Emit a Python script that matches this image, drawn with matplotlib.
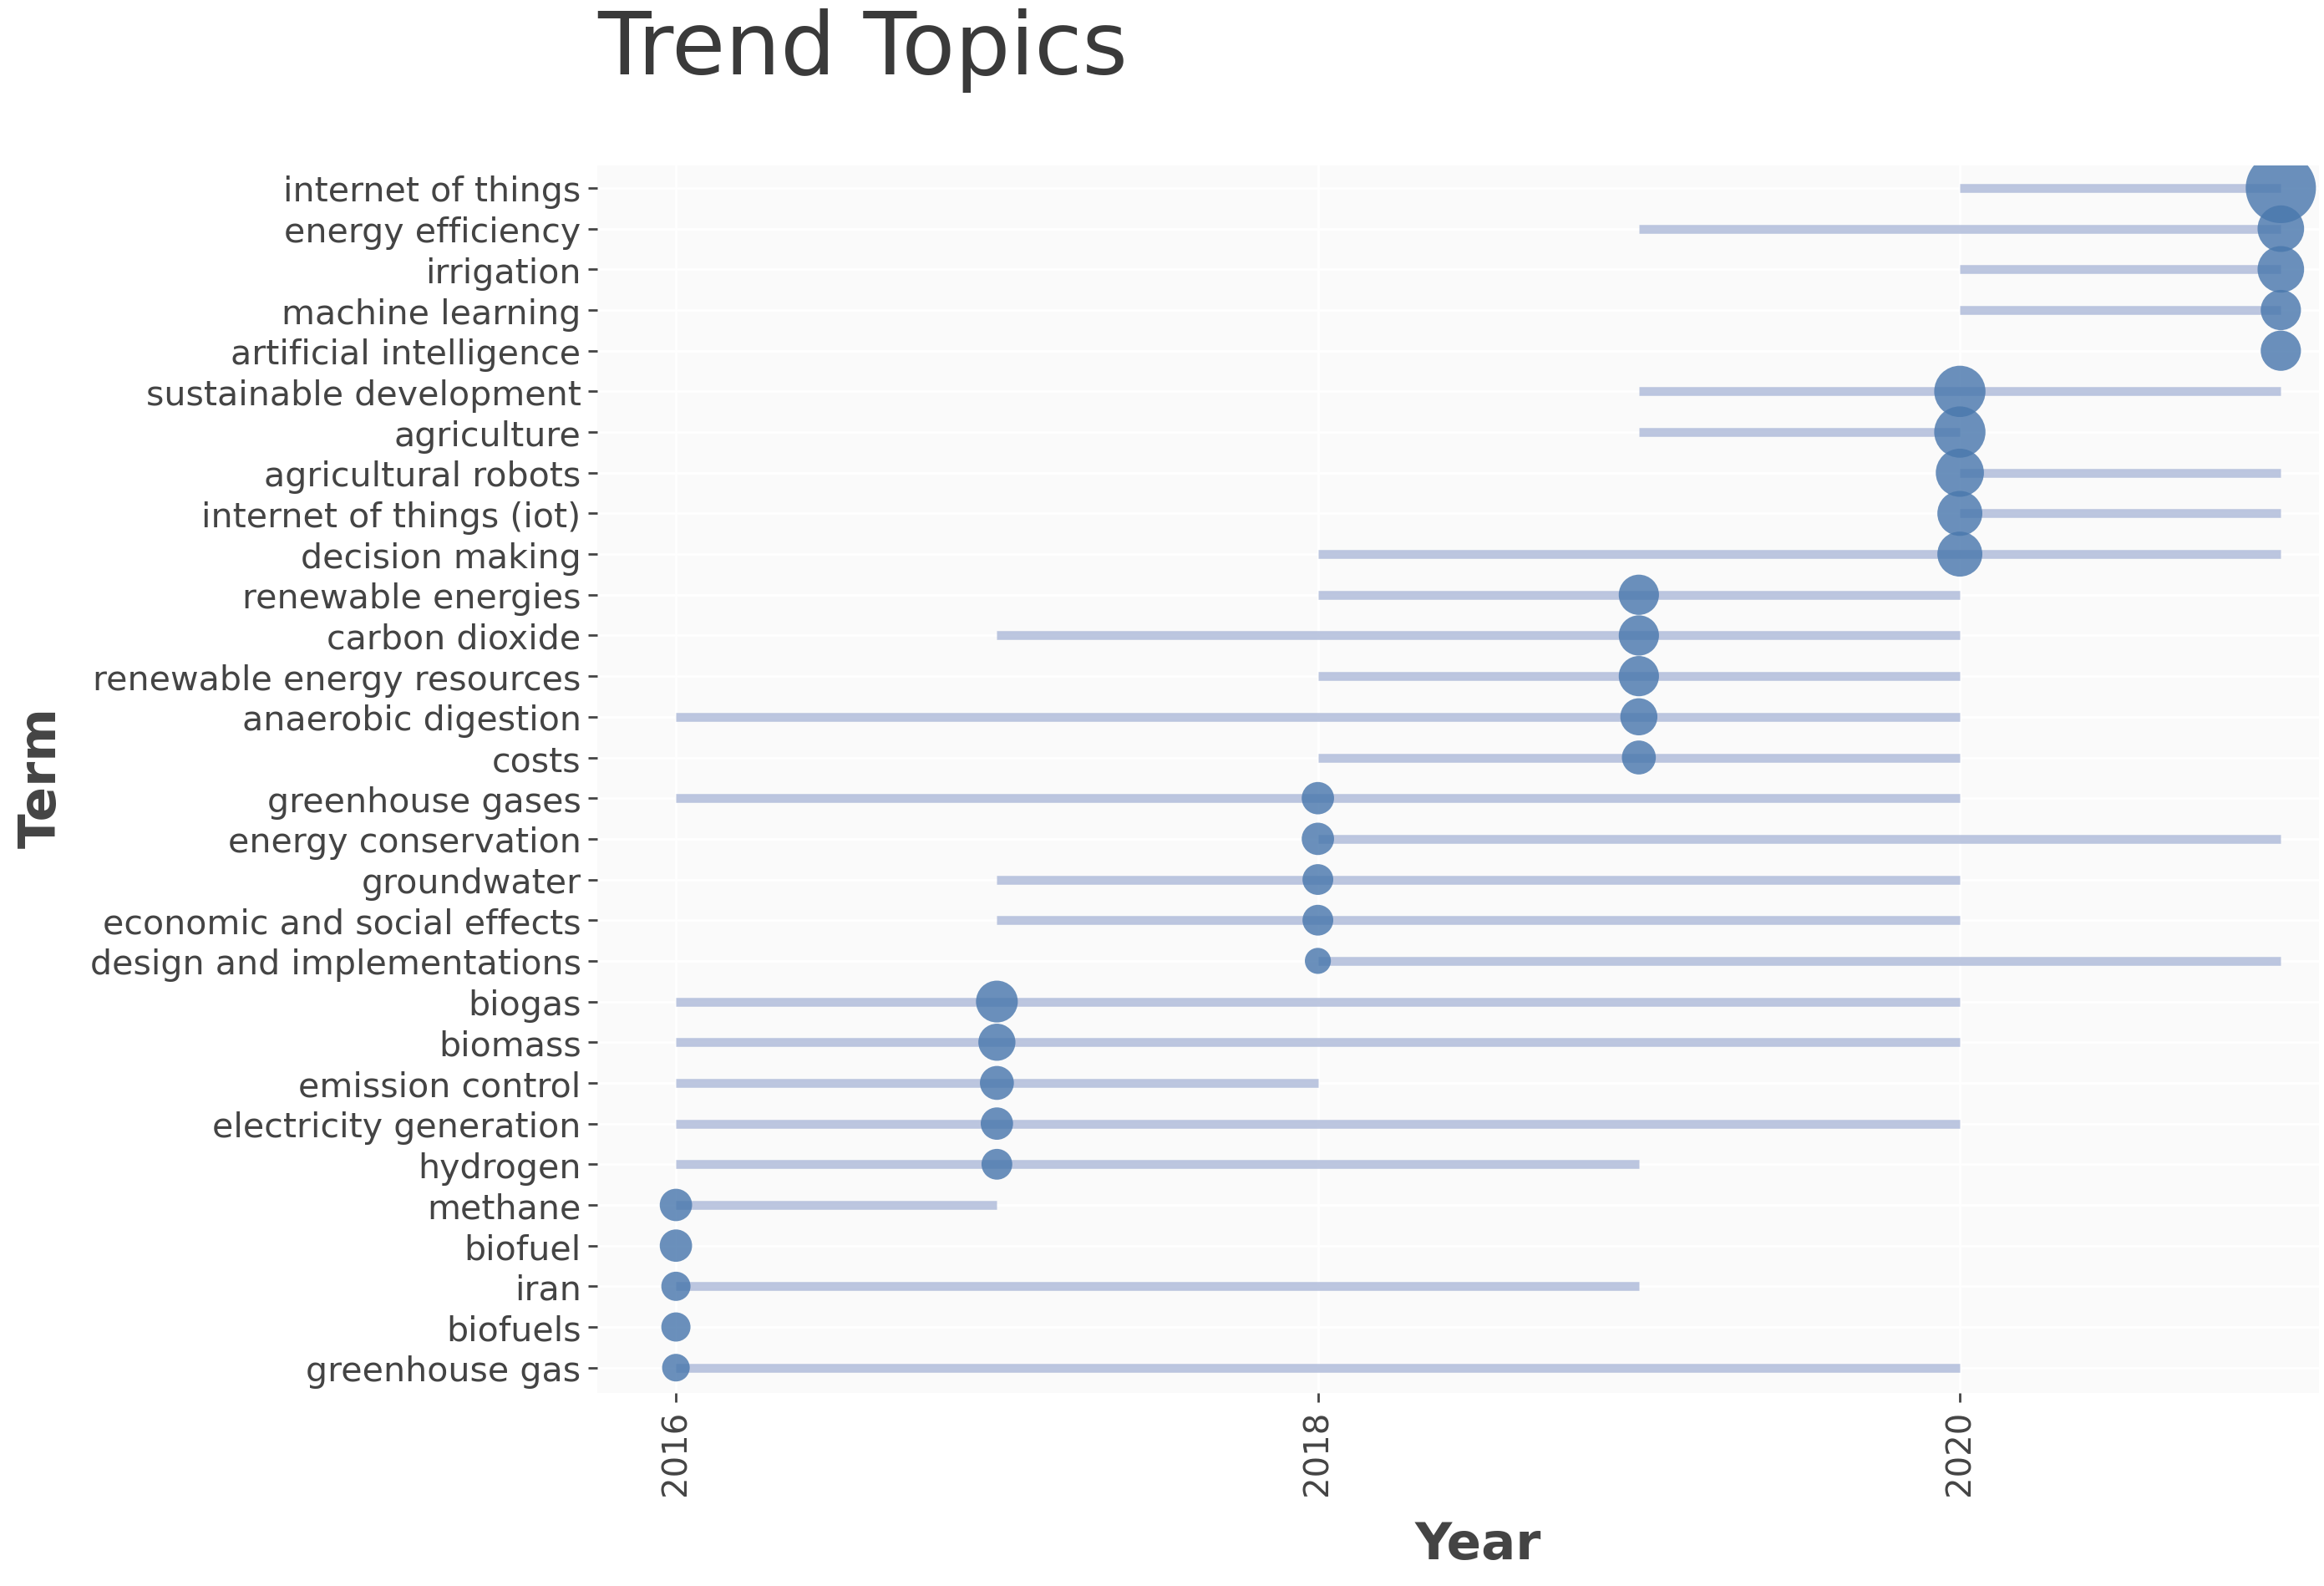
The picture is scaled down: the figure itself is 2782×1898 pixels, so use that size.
import numpy as np
import matplotlib.pyplot as plt

terms = [
    "internet of things", "energy efficiency", "irrigation", "machine learning",
    "artificial intelligence", "sustainable development", "agriculture",
    "agricultural robots", "internet of things (iot)", "decision making",
    "renewable energies", "carbon dioxide", "renewable energy resources",
    "anaerobic digestion", "costs", "greenhouse gases", "energy conservation",
    "groundwater", "economic and social effects", "design and implementations",
    "biogas", "biomass", "emission control", "electricity generation", "hydrogen",
    "methane", "biofuel", "iran", "biofuels", "greenhouse gas",
]
# first quartile year, median year, third quartile year, term frequency
year_q1 = [2020, 2019, 2020, 2020, 2021, 2019, 2019, 2020, 2020, 2018,
           2018, 2017, 2018, 2016, 2018, 2016, 2018, 2017, 2017, 2018,
           2016, 2016, 2016, 2016, 2016, 2016, 2016, 2016, 2016, 2016]
year_med = [2021, 2021, 2021, 2021, 2021, 2020, 2020, 2020, 2020, 2020,
            2019, 2019, 2019, 2019, 2019, 2018, 2018, 2018, 2018, 2018,
            2017, 2017, 2017, 2017, 2017, 2016, 2016, 2016, 2016, 2016]
year_q3 = [2021, 2021, 2021, 2021, 2021, 2021, 2020, 2021, 2021, 2021,
           2020, 2020, 2020, 2020, 2020, 2020, 2021, 2020, 2020, 2021,
           2020, 2020, 2018, 2020, 2019, 2017, 2016, 2019, 2016, 2020]
freq = [33, 18, 18, 14, 14, 21, 21, 19, 17, 17,
        14, 14, 14, 12, 10, 9, 9, 8, 8, 5,
        15, 12, 10, 9, 8, 9, 9, 7, 7, 6]
year_ticks = [2016, 2018, 2020]

fig = plt.figure(figsize=(13.91, 9.495), dpi=200)
ax = fig.add_axes([0.257, 0.1217, 0.741, 0.7733])
ax.set_facecolor("#fafafa")

y = np.arange(len(terms))
# dot diameter in points grows with frequency
diam = (11.5 + np.array(freq)) * 0.68
ax.hlines(y, year_q1, year_q3, color="#b5c0dc", lw=3.8, alpha=0.9, zorder=2)
ax.scatter(year_med, y, s=diam ** 2, color="#4a78ad", alpha=0.82,
           edgecolors="none", zorder=3)

ax.set_xlim(2015.755, 2021.12)
ax.set_ylim(29.62, -0.546)
ax.set_yticks(y)
ax.set_yticklabels(terms, fontsize=14.8, color="#444444")
ax.set_xticks(year_ticks)
ax.set_xticklabels([str(t) for t in year_ticks], rotation=90, fontsize=14.5,
                   color="#444444")
ax.tick_params(axis="both", length=4, width=1, color="#444444", pad=3)
ax.grid(True, color="white", lw=1.0, zorder=0)
ax.set_axisbelow(True)
for s in ax.spines.values():
    s.set_visible(False)

fig.text(0.257, 0.968, "Trend Topics", fontsize=37.5, color="#3a3a3a",
         ha="left", va="center")
fig.text(0.636, 0.026, "Year", fontsize=22, fontweight="bold", color="#444444",
         ha="center", va="center")
fig.text(0.018, 0.51, "Term", fontsize=22, fontweight="bold", color="#444444",
         ha="center", va="center", rotation=90)

fig.savefig("out.png", dpi=200)
